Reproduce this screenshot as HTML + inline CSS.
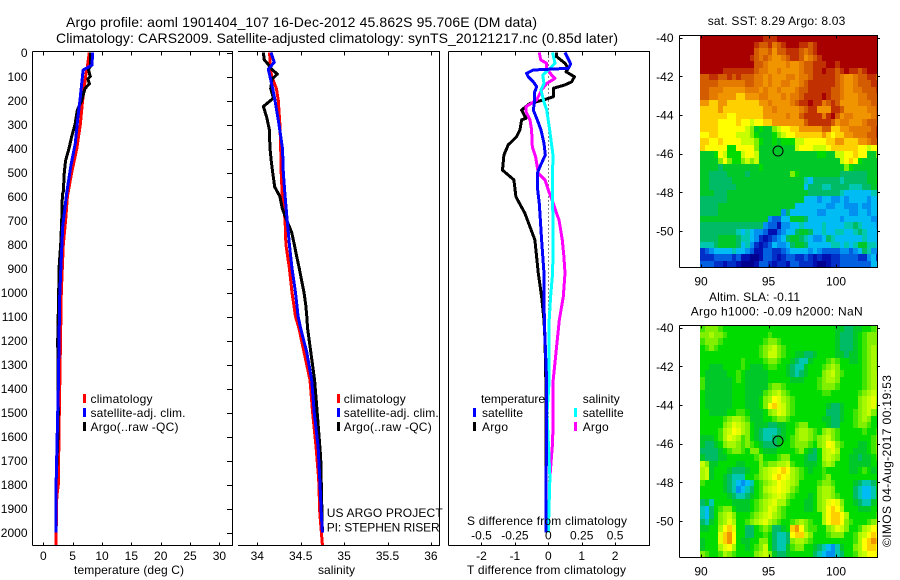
<!DOCTYPE html>
<html lang="en">
<head>
<meta charset="utf-8">
<title>Argo profile</title>
<style>
html,body{margin:0;padding:0;background:#fff;width:900px;height:580px;overflow:hidden}
svg{display:block;font-family:"Liberation Sans",sans-serif;font-size:12px;fill:#000}
text{fill:#000}
</style>
</head>
<body>
<svg id="chart" xmlns="http://www.w3.org/2000/svg" width="900" height="580" viewBox="0 0 900 580">
<rect x="0" y="0" width="900" height="580" fill="#fff"/>
<text x="66" y="27" font-size="14" textLength="471" lengthAdjust="spacing">Argo profile: aoml 1901404_107 16-Dec-2012 45.862S 95.706E (DM data)</text>
<text x="56" y="43" font-size="14" textLength="562" lengthAdjust="spacing">Climatology: CARS2009. Satellite-adjusted climatology: synTS_20121217.nc (0.85d later)</text>

<g id="marks"></g>
<g id="axes"></g>

<text x="74" y="574" textLength="110" lengthAdjust="spacing">temperature (deg C)</text>
<text x="318" y="574" textLength="37" lengthAdjust="spacing">salinity</text>
<text x="467" y="574" textLength="159" lengthAdjust="spacing">T difference from climatology</text>
<text x="467" y="525" textLength="160" lengthAdjust="spacing">S difference from climatology</text>

<g>
<rect x="83" y="394" width="3" height="9" fill="#f00"/>
<text x="90.5" y="403" textLength="62" lengthAdjust="spacing">climatology</text>
<rect x="83" y="408" width="3" height="9" fill="#00f"/>
<text x="90.5" y="417" textLength="95" lengthAdjust="spacing">satellite-adj. clim.</text>
<rect x="83" y="422" width="3" height="9" fill="#000"/>
<text x="90.5" y="431" textLength="88" lengthAdjust="spacing">Argo(..raw -QC)</text>
</g>
<g>
<rect x="337" y="394" width="3" height="9" fill="#f00"/>
<text x="343.7" y="403" textLength="62" lengthAdjust="spacing">climatology</text>
<rect x="337" y="408" width="3" height="9" fill="#00f"/>
<text x="343.7" y="417" textLength="95" lengthAdjust="spacing">satellite-adj. clim.</text>
<rect x="337" y="422" width="3" height="9" fill="#000"/>
<text x="343.7" y="431" textLength="88" lengthAdjust="spacing">Argo(..raw -QC)</text>
</g>
<text x="326.7" y="517" textLength="116" lengthAdjust="spacing">US ARGO PROJECT</text>
<text x="326.7" y="531.5" textLength="113" lengthAdjust="spacing">PI: STEPHEN RISER</text>
<g>
<text x="481" y="403" textLength="64" lengthAdjust="spacing">temperature</text>
<rect x="473" y="408" width="3" height="9" fill="#00f"/>
<text x="482" y="417" textLength="41" lengthAdjust="spacing">satellite</text>
<rect x="473" y="422" width="3" height="9" fill="#000"/>
<text x="482" y="431" textLength="26" lengthAdjust="spacing">Argo</text>
<text x="582.7" y="403" textLength="37" lengthAdjust="spacing">salinity</text>
<rect x="574" y="408" width="3" height="9" fill="#0ff"/>
<text x="582.7" y="417" textLength="41" lengthAdjust="spacing">satellite</text>
<rect x="574" y="422" width="3" height="9" fill="#f0f"/>
<text x="582.7" y="431" textLength="26" lengthAdjust="spacing">Argo</text>
</g>

<text x="707.7" y="25" textLength="137.6" lengthAdjust="spacing">sat. SST: 8.29 Argo: 8.03</text>
<text x="709" y="301" textLength="91" lengthAdjust="spacing">Altim. SLA: -0.11</text>
<text x="690.7" y="315.5" textLength="172" lengthAdjust="spacing">Argo h1000: -0.09 h2000: NaN</text>
<text transform="translate(891,547) rotate(-90)" textLength="172" lengthAdjust="spacing">©IMOS 04-Aug-2017 00:19:53</text>
</svg>

<script>
// ---------- axis tick labels ----------
const depthTicks = [0,100,200,300,400,500,600,700,800,900,1000,1100,1200,1300,1400,1500,1600,1700,1800,1900,2000];
const temperatureTicks = [0,5,10,15,20,25,30];
const salinityTicks = [34,34.5,35,35.5,36];
const tempDiffTicks = [-2,-1,0,1,2];
const salDiffTicks = [-0.5,-0.25,0,0.25,0.5];
const lonTicks = [90,95,100];
const latTicks = [-40,-42,-44,-46,-48,-50];

// ---------- temperature panel ----------
const tempClimDepth = [0,60,100,200,300,400,500,600,700,800,900,1000,1500,1800,1850,2053];
const tempClimValues = [7.84,7.5,7.2,6.7,6.3,5.7,4.84,4.1,3.8,3.4,3.24,3.07,2.73,2.56,2.3,2.15];
const tempArgoDepth = [0,60,70,100,110,130,150,200,240,300,350,400,450,500,580,590,700,800,900,1000,1200,1500,1590,1780,2000];
const tempArgoValues = [8.07,8.0,7.67,8.0,7.6,7.85,7.1,6.54,5.8,5.4,4.84,4.38,3.8,3.58,3.4,3.25,3.13,2.96,2.67,2.62,2.45,2.55,2.5,2.2,2.15];
const tempSatDepth = [0,52,73,94,198,281,378,476,586,726,892,1017,1400,1504,1782,2000];
const tempSatValues = [8.4,8.3,6.8,6.7,6.25,5.85,5.45,4.67,3.98,3.3,3.0,2.8,2.56,2.46,2.2,2.15];

// ---------- salinity panel ----------
const salClimDepth = [0,50,100,150,200,300,400,500,600,700,800,900,1000,1100,1150,1365,1500,1640,1780,1920,2052];
const salClimValues = [34.143,34.145,34.166,34.22,34.242,34.26,34.27,34.275,34.288,34.32,34.33,34.37,34.40,34.44,34.48,34.607,34.637,34.676,34.707,34.72,34.75];
const salArgoDepth = [0,30,50,70,90,110,150,190,225,270,320,400,450,500,560,600,650,700,750,800,850,900,950,1000,1050,1100,1150,1365,1500,1640,1690,2000];
const salArgoValues = [34.07,34.08,34.127,34.167,34.23,34.17,34.154,34.185,34.07,34.108,34.138,34.146,34.16,34.177,34.2,34.26,34.288,34.34,34.396,34.426,34.454,34.484,34.51,34.538,34.558,34.57,34.58,34.66,34.69,34.72,34.73,34.75];
const salSatDepth = [0,40,70,100,150,200,300,400,500,600,700,800,900,1000,1100,1150,1250,1365,1503,1642,1781,1920,2000];
const salSatValues = [34.158,34.196,34.127,34.146,34.177,34.204,34.25,34.29,34.30,34.32,34.345,34.37,34.40,34.44,34.47,34.5,34.57,34.627,34.657,34.70,34.72,34.737,34.75];

// ---------- difference panel ----------
const diffTArgoDepth = [0,17,45,66,80,101,122,135,149,184,198,212,240,274,281,323,351,385,427,490,531,601,670,726,781,851,920,1017,1115,1200,1400,2000];
const diffTArgoValues = [0.25,0.25,0.5,0.6,0.53,0.78,0.7,0.5,0.15,0.15,-0.15,-0.55,-0.8,-0.67,-0.8,-0.85,-0.95,-1.2,-1.33,-1.37,-1.03,-0.97,-0.7,-0.55,-0.4,-0.35,-0.3,-0.2,-0.13,-0.1,-0.07,-0.07];
const diffSArgoDepth = [0,31,45,66,94,108,129,156,198,226,247,281,323,392,434,503,531,573,628,670,698,781,851,920,1017,1115,1365,1545,1642,1677,1770,2000];
const diffSArgoValues = [-0.067,-0.057,-0.012,-0.012,0.025,0.05,-0.012,-0.05,-0.087,-0.167,-0.167,-0.137,-0.125,-0.12,-0.095,-0.075,-0.025,0,0.037,0.062,0.08,0.105,0.117,0.125,0.112,0.082,0.037,0.037,0.03,0.025,0.012,0];
const diffSSatDepth = [0,45,66,94,129,156,198,240,309,365,434,503,614,781,920,1017,1115,1365,1503,1770,2000];
const diffSSatValues = [0.032,0.05,0.012,-0.042,-0.032,-0.055,-0.037,-0.012,0.007,0.02,0.037,0.03,0.032,0.037,0.032,0.017,0.007,0.007,-0.01,0.012,0];
const diffTSatDepth = [0,48,66,73,87,101,122,142,170,212,240,281,323,378,427,476,503,559,629,781,920,1115,1365,2000];
const diffTSatValues = [0.5,0.67,0.6,-0.45,-0.65,-0.6,-0.45,-0.35,-0.42,-0.42,-0.45,-0.33,-0.22,-0.13,-0.09,-0.25,-0.33,-0.33,-0.27,-0.2,-0.13,-0.12,-0.05,-0.07];

// ---------- maps (one letter = one colour level per cell, rows north to south) ----------
const argoLon = 95.706;
const argoLat = -45.862;
const sstRows = [
"ssssssssssssssrrrsssssssssssssssssssssss",
"ssssssssssssrqqrpqrsssrrqrssssssssssssss",
"ssssssssssssqppqoqqrrrqpqrssssssssssssss",
"sssssssssssrqpqpoopqrrqopqrsssssssssssss",
"ssssssssssssqqpoooopoopqqrrrssrsssssssss",
"sssssrrrrrrrqppoopoooopqqrrsrrqrsrrqrsss",
"qqrrqqrqrqqqppopoooppoppqrrrrrqpoopqqrrq",
"qqqqppppppqqppopooppoopqrrrrrrqpoopqqqrr",
"qqpppooooopppopoopooopqqrrrrrqqpooppqqqr",
"qqppoooonnoooppooopoppqrrrrsrqqpoooppqqq",
"oonnoonnnnnnnoopoooopqrrsrrpqrqoooopppqq",
"nnnnonnnnnnnnnoopooooopqrrooorrqoooooppq",
"nnnnnnmmnnnnnnooooopooqrrrrprsqoppoooopq",
"nnnnmmmmnmmlmmnnoooooooqrrrrrqoppooopqqq",
"nnnnmmmmmmlkijiiklmmnnoooooqqnnoopppppqr",
"mmnnmmmmlllkjiiijklmmnnnnnnonmnnoopppqqr",
"nnmmnmmmmlllkjiijijjjllmmmmmnnoonnnoopqq",
"nmmmmmjjmmmmkiiiiiiiilmmmlllmnnnnnnmmlmm",
"iiijmljjjlmmliiiiiiiiiiiiijjiillmmnmmiik",
"iiiikmkjjklkliiiiiiiiiiiiiiiiiilmnmjiiii",
"iiiihiiiiiiiijiiiiiiiiiiiiiiiiiikjiiiiii",
"iihhhhiiiihiiiiiiiiikjiiiiiiiiihhhhhhiii",
"iihhhhhiiiiiiiiiiiiiiiigfhhhhhhghhhhhiij",
"iihhhhhhiiiiiiiiiiiiiiifhhhgghhhhggghhii",
"iiihhhiiiiiiiiiiiiiiiiiihhhhhhhgffffffgg",
"hhhhhhiiiiiiiiiiiiiiiiifffeffeefeffffeff",
"hhhhiiiiiiiiiiiiiiiiifffffffeeffeeefeeff",
"hhhhiiiiiiiiiiiiiiehffffffeefffffeeffeff",
"iiiiiiiiiiiiiiieddffiiihfffffffeffffffee",
"hhhhhhhhhhhhhheddbeeffgffffgffffgghgfffe",
"hhhhhhhhgfgfeedbbdeffhiihffgffggffghgfff",
"hhhhiiiihggfecbcdefhiihgfeefhgffffffgfff",
"ggghiiiihfgecbcdfeefhiihfffffggfgfgiiggf",
"cdeffffgffedbbddccdeffffefeddddeedefhgee",
"cccddddcdbbaabddcbcddccdcbcbbccddddccefc",
"dddccbccbaaabddcbccbddcccbaabccdddddddff"
];
const slaRows = [
"tkkktjjjjjjjjjjjjjjjjjjjjjjjjjiihhiijjtk",
"kkukktjjjjjjjjjtjjjjjjjjjjjjjjihhhijtkkk",
"tkkktjjjjjjjjjtkktjjjjjjjjjjjjihhhijtkkk",
"jtktjjjjjjjjjtkulktjjjjjjjjjjjihhhijtkuk",
"jjjjjjjjjjjjjtkllktjjiihhijjjjiihiijtkuk",
"jjjjjjjjjtjjjjtkktjjihggijjjtktjjiijtkuk",
"jjiiijjjjtjiiijttjjihggijjjtkukjjjjjtkuk",
"jiiiiijjtjiiiiijjjjihghijjjkulktjjjjtkuu",
"tiiiiiijtjiiiiijjjjjiiijjjtkuukjjjjjtkuu",
"tiiiiiijjjiiiiitkktjjjjjjjtkkktjjjjjtkuu",
"jiiiiiijjjiiiitkulktjjjjjjjttjjjjjjtkulu",
"jiiiiiijjjiiijkumvuktjjjjjjjjjjjjjjkulvu",
"jiiiiiijjjiiijkmnvlktjjjjjjjihhijjjkulvk",
"jjiiiijjttjiiijkuvlktjjjjjjjhhhijjtkulkt",
"jjjjjtkuuktiiijjtkktjjjjjjjiihhijjtkukjj",
"jjjjjkuvlukjiiihhiijjtkkjjjjihhjjjtkktjj",
"jjjjtulmvukjihggghijjkuuktjkuktjjjjjtjjt",
"iiijtuvlutkjihgghiijtkuuktkulktjjjjjjjtk",
"ihhijkuuktktjihhhijjtkkktjkumvktjjjiijtk",
"hhhhijtkktjkkjiiijjjjtkjihjulvujjjiiijtk",
"ihhhiijjjjjjtkjjjtkkjjjihhjulukjjiihiijt",
"lkiijjjjiijjjktkkuultjjiiijkukjjjiiiiijj",
"ulijjjihhhijjkulvmnmuktjijjtjjjjjiijtjij",
"ulijjihgggjjtkulmnmvuktjjjjtkjjjjjjjjjjj",
"tjjjjihgfefgjtkulmvlukjjjjtkktjjjjihgghj",
"jjjjjihgefghjtulvmvlktjjjjkuukjjjjhgffgi",
"jjjjjjihgghijtkulvlktjjjijkuuktjjjhgffgi",
"higjjjjiiiijtkulvuutjjjiijkuvmvkjjihggij",
"gfhjtkkjiiijtkuvlktjjjjiijkumnmujjjiiijj",
"gfhjkulkjjjtkulvuktjjjjjjjjumnnmujjjjjjt",
"hgijkuvujjtkulvuktjjtkuktjjumnnmktjjjtku",
"iijjumnvjjhhjtkthhijnomkttjjkuvlkjjtulmv",
"jjjjvnomjjhhjjtjhgghmnnlkjjjtkkkjjtulmnm",
"ijjjvnomjiijjkkjhgghkuuktjjjjjjjjjtumnon",
"ijjjuvmujjijtkljhggitkkjjihgfegijjkumnnm",
"ktjjtuktjjjjkulkihhijjjjjhgfeeghjjtulmmv"
];
const levelCodes = "abcdefghijklmnopqrstuv";
const levelColors = ["#000090","#0010b0","#0030c8","#0060e0","#0090f0","#00bcf4","#00c8b0","#00bb66","#00c828","#00dc00","#80f000","#c8ff00","#ffff00","#ffd000","#f09400","#e47a00","#d45c00","#c03000","#a80000","#40e600","#a8f800","#e4ff00"];

// ---------- axis functions ----------
function yDepth(d){return 52.5+0.24*d;}
function xTemp(t){return 43.3+5.87*t;}
function xSal(s){return 257.3+86.8*(s-34);}
function xDiffT(t){return 548.3+33.4*t;}
function xDiffS(s){return 548.3+133.6*s;}
function xLon(l){return 701+13.5*(l-90);}
function yLatSst(l){return 37.7+19.33*(-40-l);}
function yLatSla(l){return 327.7+19.33*(-40-l);}

const SVGNS = "http://www.w3.org/2000/svg";
const marksGroup = document.getElementById("marks");
const axesGroup = document.getElementById("axes");
function mk(tag,attrs,parent){
  const el = document.createElementNS(SVGNS,tag);
  for(const k in attrs){ el.setAttribute(k,attrs[k]); }
  parent.appendChild(el);
  return el;
}
function axisLine(x1,y1,x2,y2,name){
  const el = mk("line",{x1:x1,y1:y1,x2:x2,y2:y2,stroke:"#000","stroke-width":1,"shape-rendering":"crispEdges"},axesGroup);
  
  
  return el;
}
function tickLabel(x,y,str,anchor,name){
  const el = mk("text",{x:x,y:y,"text-anchor":anchor},axesGroup);
  el.textContent = str;
  
  
  return el;
}
function profile(depths,values,xFn,color,name,w){
  const pts = depths.map(function(d,i){return xFn(values[i]).toFixed(1)+","+yDepth(d).toFixed(1);}).join(" ");
  const el = mk("polyline",{points:pts,fill:"none",stroke:color,"stroke-width":w||3,"stroke-linejoin":"round","shape-rendering":"crispEdges"},marksGroup);
  
  
  return el;
}

// ---------- maps ----------
function drawMap(rows,yLat,name,clipId,frameTop,frameBottom){
  const clip = mk("clipPath",{id:clipId},marksGroup);
  mk("rect",{x:679.5,y:frameTop,width:198.5,height:frameBottom-frameTop},clip);
  const g = mk("g",{"clip-path":"url(#"+clipId+")"},marksGroup);
  
  
  const lon0 = 89.93, lat0 = -39.88, step = 1/3;
  rows.forEach(function(row,r){
    for(let c=0;c<40;c++){
      const code = row.charAt(Math.min(c,row.length-1));
      const x0 = Math.round(xLon(lon0+c*step)), x1 = Math.round(xLon(lon0+(c+1)*step));
      const y0 = Math.round(yLat(lat0-r*step)), y1 = Math.round(yLat(lat0-(r+1)*step));
      const cell = mk("rect",{x:x0,y:y0,width:x1-x0,height:y1-y0,fill:levelColors[levelCodes.indexOf(code)],"shape-rendering":"crispEdges"},g);
      
      
    }
  });
  const marker = mk("ellipse",{cx:xLon(argoLon),cy:yLat(argoLat),rx:5,ry:5,fill:"none",stroke:"#000","stroke-width":1},marksGroup);
  
  

  axisLine(679.5,frameTop,878,frameTop,name+'-frame-top');
  axisLine(679.5,frameBottom,878,frameBottom,name+'-frame-bottom');
  axisLine(679.5,frameTop,679.5,frameBottom,name+'-frame-left');
  axisLine(877.5,frameTop,877.5,frameBottom,name+'-frame-right');
  lonTicks.forEach(function(l){
    const x = Math.round(xLon(l))+0.5;
    axisLine(x,frameTop,x,frameTop+3,name+'-top-tick');
    axisLine(x,frameBottom-3,x,frameBottom,name+'-bottom-tick');
    tickLabel(xLon(l),frameBottom+18,String(l),"middle",name+'-lon-label');
  });
  latTicks.forEach(function(l){
    const y = Math.round(yLat(l))+0.5;
    axisLine(679.5,y,682.5,y,name+'-left-tick');
    axisLine(877.5,y,880,y,name+'-right-tick');
    tickLabel(673.5,yLat(l)+4.5,String(l),"end",name+'-lat-label');
  });
}
drawMap(sstRows,yLatSst,'sst-map','clip-sst',35.5,267.5);
drawMap(slaRows,yLatSla,'sla-map','clip-sla',325.5,557.5);

// ---------- profile series ----------
profile(tempClimDepth,tempClimValues,xTemp,"#f00",'temperature-climatology-line');
profile(tempArgoDepth,tempArgoValues,xTemp,"#000",'temperature-argo-line');
profile(tempSatDepth,tempSatValues,xTemp,"#00f",'temperature-satellite-line');

profile(salClimDepth,salClimValues,xSal,"#f00",'salinity-climatology-line');
profile(salArgoDepth,salArgoValues,xSal,"#000",'salinity-argo-line');
profile(salSatDepth,salSatValues,xSal,"#00f",'salinity-satellite-line');

const zeroLine = mk("line",{x1:xDiffT(0),y1:yDepth(0),x2:xDiffT(0),y2:yDepth(2000),stroke:"#000","stroke-width":1,"stroke-dasharray":"1 3","shape-rendering":"crispEdges"},marksGroup);


profile(diffTArgoDepth,diffTArgoValues,xDiffT,"#000",'t-difference-argo-line');
profile(diffSArgoDepth,diffSArgoValues,xDiffS,"#f0f",'s-difference-argo-line');
profile(diffSSatDepth,diffSSatValues,xDiffS,"#0ff",'s-difference-satellite-line');
profile(diffTSatDepth,diffTSatValues,xDiffT,"#00f",'t-difference-satellite-line');

// ---------- profile panel axes ----------
const plotTop = 51.5, plotBottom = 545.5;
axisLine(32.5,plotTop,233,plotTop,'temperature-frame-top');
axisLine(32.5,plotBottom,233,plotBottom,'temperature-frame-bottom');
axisLine(32.5,plotTop,32.5,plotBottom,'temperature-frame-left');
axisLine(232.5,plotTop,232.5,plotBottom,'temperature-frame-right');
axisLine(238,plotTop,440,plotTop,'salinity-frame-top');
axisLine(238,plotBottom,440,plotBottom,'salinity-frame-bottom');
axisLine(439.5,plotTop,439.5,plotBottom,'salinity-frame-right');
axisLine(448.5,plotTop,650,plotTop,'difference-frame-top');
axisLine(448.5,plotBottom,650,plotBottom,'difference-frame-bottom');
axisLine(448.5,plotTop,448.5,plotBottom,'difference-frame-left');
axisLine(649.5,plotTop,649.5,plotBottom,'difference-frame-right');

depthTicks.forEach(function(d){
  const y = Math.round(yDepth(d))+0.5;
  axisLine(227,y,232.5,y,'depth-tick');
  tickLabel(27.5,yDepth(d)+4.5,String(d),"end",'depth-label');
});
temperatureTicks.forEach(function(t){
  const x = Math.round(xTemp(t))+0.5;
  axisLine(x,plotTop,x,plotTop+4,'temperature-top-tick');
  axisLine(x,plotBottom-3,x,plotBottom,'temperature-bottom-tick');
  tickLabel(xTemp(t),560,String(t),"middle",'temperature-tick-label');
});
salinityTicks.forEach(function(s){
  const x = Math.round(xSal(s))+0.5;
  axisLine(x,plotTop,x,plotTop+4,'salinity-top-tick');
  axisLine(x,plotBottom-3,x,plotBottom,'salinity-bottom-tick');
  tickLabel(xSal(s),560,String(s),"middle",'salinity-tick-label');
});
tempDiffTicks.forEach(function(t){
  const x = Math.round(xDiffT(t))+0.5;
  axisLine(x,plotTop,x,plotTop+4,'t-difference-top-tick');
  axisLine(x,plotBottom-3,x,plotBottom,'t-difference-bottom-tick');
  tickLabel(xDiffT(t),560,String(t),"middle",'t-difference-tick-label');
});
salDiffTicks.forEach(function(s){
  tickLabel(xDiffS(s),539.5,String(s),"middle",'s-difference-tick-label');
});
</script>
</body>
</html>
